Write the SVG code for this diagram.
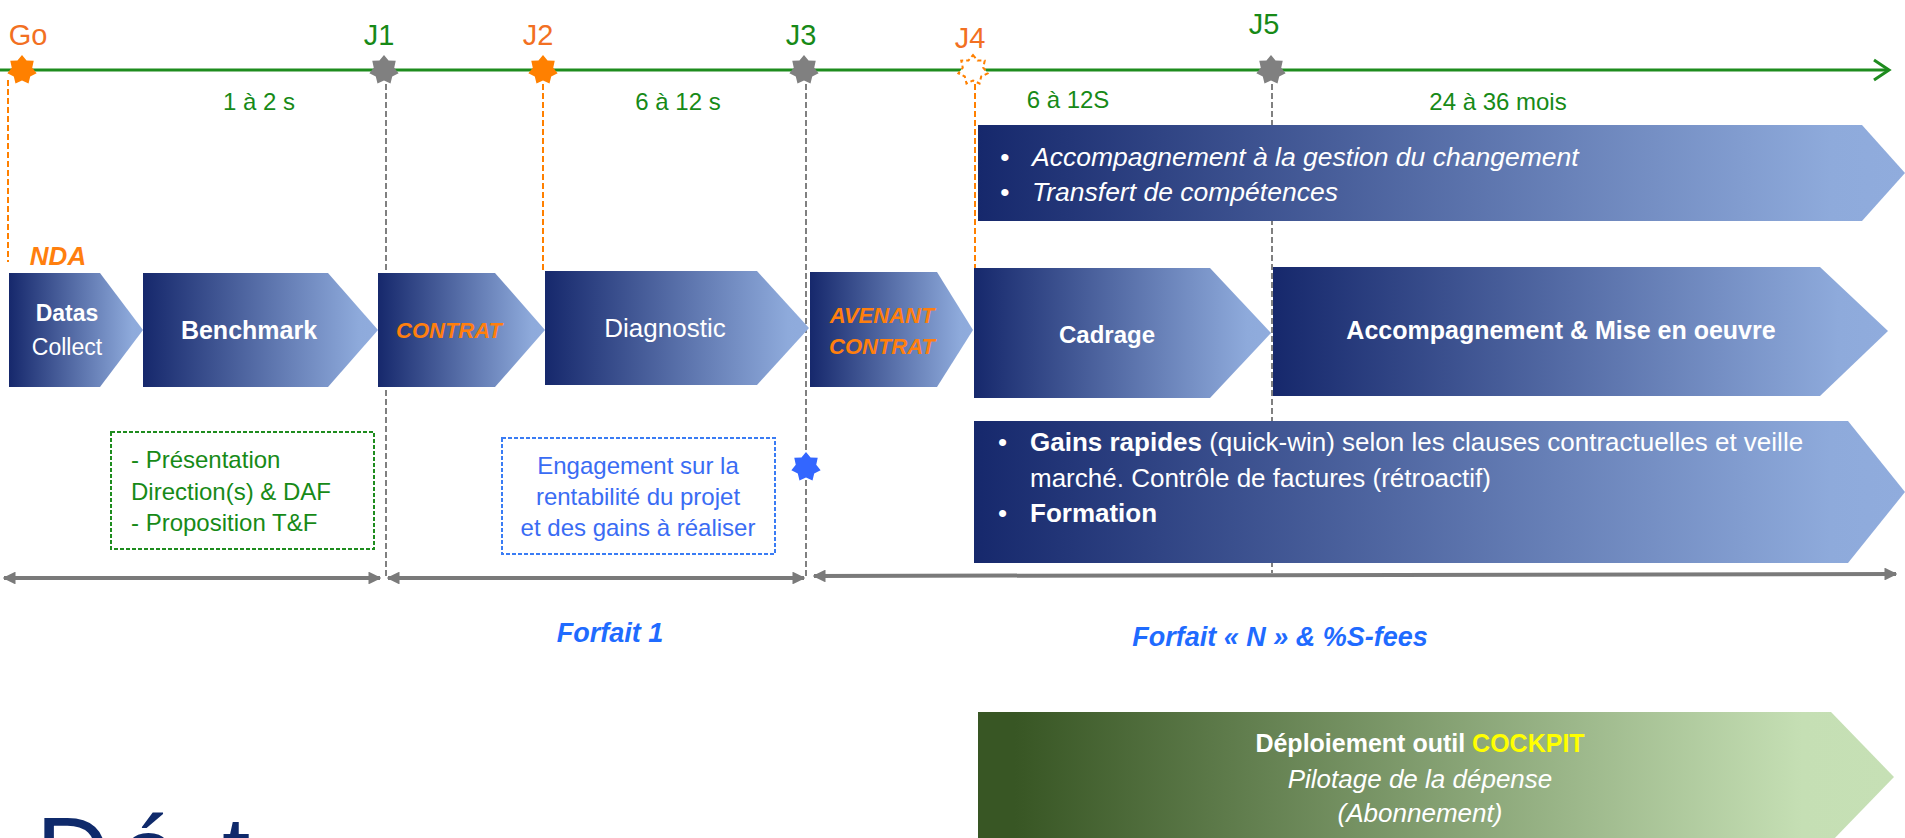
<svg xmlns="http://www.w3.org/2000/svg" xmlns:xlink="http://www.w3.org/1999/xlink" width="1905" height="838" viewBox="0 0 1905 838">
<style>
text{font-family:"Liberation Sans",Arial,sans-serif}
.jg{fill:#178a17;font-size:29px}
.jo{fill:#f27022;font-size:29px}
.dur{fill:#178a17;font-size:24px}
.w{fill:#ffffff}
.b{font-weight:bold}
.i{font-style:italic}
.or{fill:#ff7f0e;font-weight:bold;font-style:italic}
.gdash{fill:none;stroke:#808080;stroke-width:2;stroke-dasharray:6 3}
.odash{fill:none;stroke:#ff8000;stroke-width:2;stroke-dasharray:6 3}
.dbl{stroke:#7a7a7a;stroke-width:4;fill:none}
.gt{fill:#178a17;font-size:24px}
.bt{fill:#3a6cf4;font-size:24px}
.forf{fill:#1f6bff;font-size:27px;font-weight:bold;font-style:italic}
</style>
<defs>
<linearGradient id="blue" x1="0" y1="0" x2="1" y2="0">
<stop offset="0" stop-color="#16286c"/>
<stop offset="0.92" stop-color="#8eaadb"/>
<stop offset="1" stop-color="#90acdd"/>
</linearGradient>
<linearGradient id="green" x1="0" y1="0" x2="1" y2="0">
<stop offset="0" stop-color="#385624"/>
<stop offset="0.04" stop-color="#385624"/>
<stop offset="0.9" stop-color="#c5dfb4"/>
<stop offset="1" stop-color="#c6e0b5"/>
</linearGradient>
<polygon id="star" points="0,-15 4.556,-9.461 11.727,-9.353 10.236,-2.336 14.624,3.338 8.209,6.547 6.509,13.515 0,10.5 -6.509,13.515 -8.209,6.547 -14.624,3.338 -10.236,-2.336 -11.727,-9.353 -4.556,-9.461"/>
<marker id="ah" viewBox="0 0 10 10" refX="9" refY="5" markerWidth="3.2" markerHeight="3.2" orient="auto-start-reverse" markerUnits="strokeWidth">
<path d="M0,0 L10,5 L0,10 Z" fill="#7a7a7a"/>
</marker>
</defs>

<g id="connectors">
<line class="odash" x1="8" y1="80" x2="8" y2="262"/>
<line class="gdash" x1="386" y1="84" x2="386" y2="576"/>
<line class="odash" x1="543" y1="84" x2="543" y2="271"/>
<line class="gdash" x1="806" y1="84" x2="806" y2="576"/>
<line class="odash" x1="975" y1="84" x2="975" y2="268"/>
<line class="gdash" x1="1272" y1="84" x2="1272" y2="573"/>
<line x1="0" y1="70" x2="1887" y2="70" stroke="#1e8c1e" stroke-width="3"/>
<polyline points="1874,60 1889,70 1874,80" fill="none" stroke="#1e8c1e" stroke-width="3"/>
<line class="dbl" x1="4" y1="578" x2="380" y2="578" marker-start="url(#ah)" marker-end="url(#ah)"/>
<line class="dbl" x1="388" y1="578" x2="804" y2="578" marker-start="url(#ah)" marker-end="url(#ah)"/>
<line class="dbl" x1="814" y1="576" x2="1896" y2="574" marker-start="url(#ah)" marker-end="url(#ah)"/>
</g>

<g id="milestones">
<g id="go"><use href="#star" x="22" y="70" fill="#ff8000"/><text class="jo" x="28" y="45" text-anchor="middle">Go</text></g>
<g id="j1"><use href="#star" x="384" y="70" fill="#808080"/><text class="jg" x="379" y="45" text-anchor="middle">J1</text></g>
<g id="j2"><use href="#star" x="543" y="70" fill="#ff8000"/><text class="jo" x="538" y="45" text-anchor="middle">J2</text></g>
<g id="j3"><use href="#star" x="804" y="70" fill="#808080"/><text class="jg" x="801" y="45" text-anchor="middle">J3</text></g>
<g id="j4"><use href="#star" x="973" y="70" fill="#ffffff" stroke="#ff8000" stroke-width="2" stroke-dasharray="4 3"/><text class="jo" x="970" y="48" text-anchor="middle">J4</text></g>
<g id="j5"><use href="#star" x="1271" y="70" fill="#808080"/><text class="jg" x="1264" y="34" text-anchor="middle">J5</text></g>
<g id="blue-star"><use href="#star" x="806" y="467" fill="#3366ff"/></g>
</g>

<g id="durations">
<text class="dur" x="259" y="110" text-anchor="middle">1 à 2 s</text>
<text class="dur" x="678" y="110" text-anchor="middle">6 à 12 s</text>
<text class="dur" x="1068" y="108" text-anchor="middle">6 à 12S</text>
<text class="dur" x="1498" y="110" text-anchor="middle">24 à 36 mois</text>
</g>

<g id="bar-accompagnement-changement">
<path d="M978,125 H1862 L1905,173 L1862,221 H978 Z" fill="url(#blue)"/>
<text class="w i" x="1000" y="166" font-size="26.5">•</text>
<text class="w i" x="1032" y="166" font-size="26.5">Accompagnement à la gestion du changement</text>
<text class="w i" x="1000" y="201" font-size="26.5">•</text>
<text class="w i" x="1032" y="201" font-size="26.5">Transfert de compétences</text>
</g>

<g id="nda"><text class="or" x="58" y="265" font-size="26" text-anchor="middle">NDA</text></g>

<g id="datas">
<path d="M9,273 H100 L143,330 L100,387 H9 Z" fill="url(#blue)"/>
<text class="w b" x="67" y="321" font-size="23" text-anchor="middle">Datas</text>
<text class="w" x="67" y="355" font-size="23" text-anchor="middle">Collect</text>
</g>
<g id="benchmark">
<path d="M143,273 H328 L378,330 L328,387 H143 Z" fill="url(#blue)"/>
<text class="w b" x="249" y="339" font-size="25" text-anchor="middle">Benchmark</text>
</g>
<g id="contrat">
<path d="M378,273 H495 L545,330 L495,387 H378 Z" fill="url(#blue)"/>
<text class="or" x="449" y="338" font-size="22" text-anchor="middle">CONTRAT</text>
</g>
<g id="diagnostic">
<path d="M545,271 H757 L809,328 L757,385 H545 Z" fill="url(#blue)"/>
<text class="w" x="665" y="337" font-size="26" text-anchor="middle">Diagnostic</text>
</g>
<g id="avenant">
<path d="M810,272 H937 L973,330 L937,387 H810 Z" fill="url(#blue)"/>
<text class="or" x="882" y="323" font-size="22" text-anchor="middle">AVENANT</text>
<text class="or" x="882" y="354" font-size="22" text-anchor="middle">CONTRAT</text>
</g>
<g id="cadrage">
<path d="M974,268 H1210 L1271,333 L1210,398 H974 Z" fill="url(#blue)"/>
<text class="w b" x="1107" y="343" font-size="24" text-anchor="middle">Cadrage</text>
</g>
<g id="accompagnement">
<path d="M1273,267 H1820 L1888,331 L1820,396 H1273 Z" fill="url(#blue)"/>
<text class="w b" x="1561" y="339" font-size="25" text-anchor="middle">Accompagnement &amp; Mise en oeuvre</text>
</g>

<g id="bar-gains">
<path d="M974,421 H1848 L1905,492 L1848,563 H974 Z" fill="url(#blue)"/>
<text class="w" x="998" y="451" font-size="26">•</text>
<text class="w" x="1030" y="451" font-size="26"><tspan font-weight="bold">Gains rapides</tspan> (quick-win) selon les clauses contractuelles et veille</text>
<text class="w" x="1030" y="487" font-size="26">marché. Contrôle de factures (rétroactif)</text>
<text class="w" x="998" y="522" font-size="26">•</text>
<text class="w b" x="1030" y="522" font-size="26">Formation</text>
</g>

<g id="box-presentation">
<rect x="111" y="432" width="263" height="117" fill="none" stroke="#1e8c1e" stroke-width="2" stroke-dasharray="4 2"/>
<text class="gt" x="131" y="468">- Présentation</text>
<text class="gt" x="131" y="500">Direction(s) &amp; DAF</text>
<text class="gt" x="131" y="531">- Proposition T&amp;F</text>
</g>

<g id="box-engagement">
<rect x="502" y="438" width="273" height="116" fill="none" stroke="#3a7cf4" stroke-width="2" stroke-dasharray="4 2"/>
<text class="bt" x="638" y="474" text-anchor="middle">Engagement sur la</text>
<text class="bt" x="638" y="505" text-anchor="middle">rentabilité du projet</text>
<text class="bt" x="638" y="536" text-anchor="middle">et des gains à réaliser</text>
</g>

<g id="forfaits">
<text class="forf" x="610" y="642" text-anchor="middle">Forfait 1</text>
<text class="forf" x="1280" y="646" text-anchor="middle">Forfait « N » &amp; %S-fees</text>
</g>

<g id="cockpit">
<path d="M978,712 H1831 L1894,777 L1831,842 H978 Z" fill="url(#green)"/>
<text class="w b" x="1420" y="752" font-size="25" text-anchor="middle">Déploiement outil <tspan fill="#ffff00">COCKPIT</tspan></text>
<text class="w i" x="1420" y="788" font-size="26" text-anchor="middle">Pilotage de la dépense</text>
<text class="w i" x="1420" y="822" font-size="26" text-anchor="middle">(Abonnement)</text>
</g>

<g id="title">
<text x="36 120 222" y="888" font-size="102" fill="#0f2a6b">Dét</text>
</g>
</svg>
